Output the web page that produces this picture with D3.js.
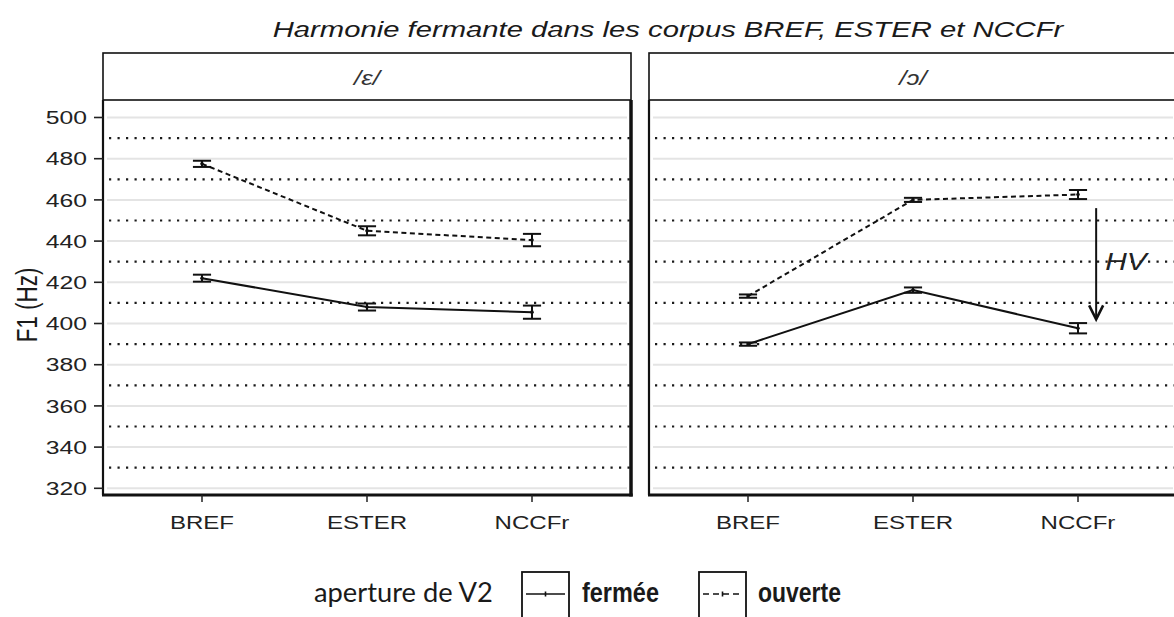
<!DOCTYPE html>
<html><head><meta charset="utf-8">
<script src="https://cdn.jsdelivr.net/npm/d3@7"></script>
<style>body{margin:0;background:#fff}</style>
</head><body><svg id="c" width="1174" height="617"></svg>
<script>
// ---------- data ----------
const categories = ["BREF", "ESTER", "NCCFr"];
const vowels = ["/ɛ/", "/ɔ/"];
const apertures = ["fermée", "ouverte"];
// /ɛ/
const epsFermee = [422, 408, 405.5];
const epsFermeeErr = [1.7, 1.7, 3.2];
const epsOuverte = [477.5, 445, 440.5];
const epsOuverteErr = [1.5, 2.2, 3.0];
// /ɔ/
const oFermee = [390, 416.2, 397.7];
const oFermeeErr = [0.8, 1.3, 2.5];
const oOuverte = [413.3, 460, 462.6];
const oOuverteErr = [0.8, 1.0, 2.2];
const yTicks = [320, 340, 360, 380, 400, 420, 440, 460, 480, 500];
const yMinor = [330, 350, 370, 390, 410, 430, 450, 470, 490];
const titleText = "Harmonie fermante dans les corpus BREF, ESTER et NCCFr";
const yLabel = "F1 (Hz)";
const legendTitle = "aperture de V2";
const hvLabel = "HV";
const hvFrom = 456, hvTo = 402, hvLabelAt = 430;

const panelsData = [
  { vowel: vowels[0], series: [
      { ap: apertures[0], m: epsFermee, e: epsFermeeErr },
      { ap: apertures[1], m: epsOuverte, e: epsOuverteErr } ] },
  { vowel: vowels[1], series: [
      { ap: apertures[0], m: oFermee, e: oFermeeErr },
      { ap: apertures[1], m: oOuverte, e: oOuverteErr } ] }
];

// ---------- layout ----------
const SX = 1.3; // horizontal stretch of the original picture
const panelLeft = [103, 649], panelW = 528, panelTop = 100, panelBottom = 495, stripTop = 53;
const FONT = "'Liberation Sans', Arial, sans-serif";
const svg = d3.select("#c");
svg.append("rect").attr("width", 1174).attr("height", 617).attr("fill", "#fff");

const x = d3.scalePoint().domain(categories).range([0, panelW]).padding(0.6);
const y = d3.scaleLinear().domain([316.75, 508.49]).range([panelBottom, panelTop]);
const dash = { "fermée": null, "ouverte": "5,3.5" };

function sText(parent, px, py, txt, size, anchor, opts = {}) {
  return parent.append("text")
    .attr("transform", `translate(${px},${py}) scale(${SX},1)`)
    .attr("text-anchor", anchor)
    .attr("font-family", opts.family || FONT)
    .attr("font-size", size)
    .attr("font-style", opts.italic ? "italic" : "normal")
    .attr("fill", opts.fill || "#1a1a1a")
    .text(txt);
}

// title
sText(svg, 668, 37, titleText, 22.5, "middle", { italic: true });

panelsData.forEach((p, i) => {
  const g = svg.append("g").attr("transform", `translate(${panelLeft[i]},0)`);
  // strip
  g.append("rect").attr("x", 0).attr("y", stripTop).attr("width", panelW).attr("height", panelTop - stripTop)
    .attr("fill", "#fff").attr("stroke", "#111").attr("stroke-width", 1.6);
  sText(g, panelW / 2, 85, p.vowel, 20, "middle", { italic: true, fill: "#333" });
  // grid
  g.selectAll(".maj").data(yTicks).join("line")
    .attr("x1", 4).attr("x2", panelW - 4).attr("y1", d => y(d)).attr("y2", d => y(d))
    .attr("stroke", "#e4e4e4").attr("stroke-width", 2);
  g.selectAll(".min").data(yMinor).join("line")
    .attr("x1", 6).attr("x2", panelW).attr("y1", d => y(d)).attr("y2", d => y(d))
    .attr("stroke", "#1a1a1a").attr("stroke-width", 2.2).attr("stroke-dasharray", "2.2,6.3");
  // lines
  p.series.forEach(s => {
    const pts = categories.map((c, k) => [x(c), y(s.m[k])]);
    g.append("path").attr("d", d3.line()(pts)).attr("fill", "none")
      .attr("stroke", "#111").attr("stroke-width", 2)
      .attr("stroke-dasharray", dash[s.ap]);
    const eb = g.append("g").attr("stroke", "#111").attr("stroke-width", 2);
    const w = x.step() * 0.11;
    categories.forEach((c, k) => {
      const cx = x(c), lo = y(s.m[k] - s.e[k]), hi = y(s.m[k] + s.e[k]);
      eb.append("line").attr("x1", cx).attr("x2", cx).attr("y1", lo).attr("y2", hi);
      eb.append("line").attr("x1", cx - w / 2).attr("x2", cx + w / 2).attr("y1", lo).attr("y2", lo);
      eb.append("line").attr("x1", cx - w / 2).attr("x2", cx + w / 2).attr("y1", hi).attr("y2", hi);
      g.append("circle").attr("cx", cx).attr("cy", y(s.m[k])).attr("r", 1.8).attr("fill", "#111");
    });
  });
  // border
  g.append("line").attr("x1", 0).attr("x2", 0).attr("y1", panelTop).attr("y2", panelBottom)
    .attr("stroke", "#111").attr("stroke-width", 2.2);
  g.append("line").attr("x1", panelW).attr("x2", panelW).attr("y1", panelTop).attr("y2", panelBottom + 1.5)
    .attr("stroke", "#111").attr("stroke-width", 3.5);
  g.append("line").attr("x1", -1).attr("x2", panelW + 1.7).attr("y1", panelBottom).attr("y2", panelBottom)
    .attr("stroke", "#111").attr("stroke-width", 3.2);
  // x axis
  categories.forEach(c => {
    g.append("line").attr("x1", x(c)).attr("x2", x(c)).attr("y1", panelBottom).attr("y2", panelBottom + 7)
      .attr("stroke", "#222").attr("stroke-width", 1.5);
    sText(g, x(c), 529, c, 18.5, "middle", { fill: "#222" });
  });
  // annotation arrow in second panel
  if (i === 1) {
    const ax = x("NCCFr") + x.step() * 0.11;
    const y0 = y(hvFrom), y1 = y(hvTo);
    g.append("line").attr("x1", ax).attr("x2", ax).attr("y1", y0).attr("y2", y1 - 2)
      .attr("stroke", "#111").attr("stroke-width", 2);
    g.append("path").attr("d", `M${ax - 7},${y1 - 14} L${ax},${y1} L${ax + 7},${y1 - 14}`)
      .attr("fill", "none").attr("stroke", "#111").attr("stroke-width", 2.6);
    sText(g, ax + 9, y(hvLabelAt) + 8.5, hvLabel, 23, "start", { italic: true, fill: "#222" });
  }
});

// y axis
const ya = svg.append("g");
yTicks.forEach(t => {
  ya.append("line").attr("x1", 94).attr("x2", 103).attr("y1", y(t)).attr("y2", y(t))
    .attr("stroke", "#222").attr("stroke-width", 1.6);
  sText(ya, 87, y(t) + 6.8, String(t), 19, "end", { fill: "#222" });
});
svg.append("text")
  .attr("transform", `translate(37,${(y(500) + y(320)) / 2 + 2}) scale(${SX},1) rotate(-90)`)
  .attr("text-anchor", "middle").attr("font-family", FONT).attr("font-size", 22.5)
  .attr("fill", "#1a1a1a").text(yLabel);

// legend
function fitText(parent, px, py, txt, size, target, family, weight) {
  const t = parent.append("text").attr("font-family", family).attr("font-size", size)
    .attr("font-weight", weight || "normal").attr("fill", "#1a1a1a").text(txt);
  const w = t.node().getComputedTextLength();
  t.attr("transform", `translate(${px},${py}) scale(${target / w},1)`);
  return t;
}
const lg = svg.append("g");
fitText(lg, 314, 602, legendTitle, 27, 179, "Lato, 'Open Sans', sans-serif");
const keyX = [522, 699], keyW = 47, keyTop = 572, keyH = 52, keyLineY = 594;
const labX = [582, 758], labW = [77, 83];
apertures.forEach((a, k) => {
  lg.append("rect").attr("x", keyX[k]).attr("y", keyTop).attr("width", keyW).attr("height", keyH)
    .attr("fill", "#fff").attr("stroke", "#111").attr("stroke-width", 1.8);
  lg.append("line").attr("x1", keyX[k] + 4).attr("x2", keyX[k] + keyW - 4)
    .attr("y1", keyLineY).attr("y2", keyLineY).attr("stroke", "#111").attr("stroke-width", 1.6)
    .attr("stroke-dasharray", a === "ouverte" ? "6,4" : null);
  lg.append("line").attr("x1", keyX[k] + keyW / 2).attr("x2", keyX[k] + keyW / 2)
    .attr("y1", keyLineY - 2.5).attr("y2", keyLineY + 2.5).attr("stroke", "#111").attr("stroke-width", 1.6);
  fitText(lg, labX[k], 602, a, 27, labW[k], "'Liberation Sans Narrow', 'Arial Narrow', sans-serif", "600");
});
</script></body></html>
